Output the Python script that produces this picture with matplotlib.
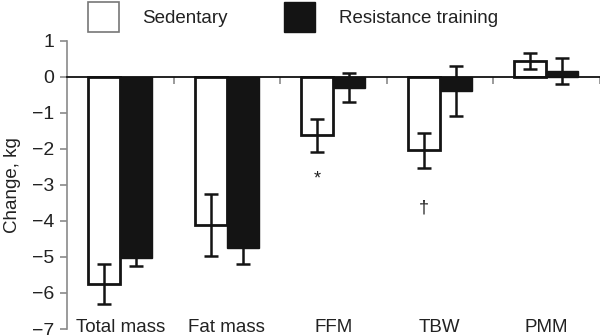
import matplotlib.pyplot as plt
import numpy as np
from matplotlib.patches import Patch

plt.rcParams["font.family"] = ["Liberation Sans", "DejaVu Sans"]

categories = ["Total mass", "Fat mass", "FFM", "TBW", "PMM"]
sedentary = [-5.75, -4.12, -1.63, -2.04, 0.43]
sedentary_err = [0.55, 0.86, 0.45, 0.49, 0.22]
resistance = [-5.03, -4.75, -0.30, -0.40, 0.16]
resistance_err = [0.22, 0.45, 0.41, 0.70, 0.37]

# significance marks drawn under the sedentary bars
marks = ["", "", "*", "\u2020", ""]
mark_y = [0, 0, -2.85, -3.64, 0]

text_color = "#222222"
axis_grey = "#8a8a8a"
dark = "#141414"

fig = plt.figure(figsize=(6.0, 3.35), dpi=100)
ax = fig.add_axes([0.1117, 0.0179, 0.8875, 0.8606])

x = np.arange(len(categories))
width = 0.3
err_kw = dict(ecolor=dark, elinewidth=1.8, capsize=4.8, capthick=1.8)

ax.bar(x - width / 2, sedentary, width, color="white", edgecolor=dark,
       linewidth=2.0, yerr=sedentary_err, error_kw=err_kw, zorder=2)
ax.bar(x + width / 2, resistance, width, color=dark, edgecolor=dark,
       linewidth=1.0, yerr=resistance_err, error_kw=err_kw, zorder=2)

for xi, m, my in zip(x - width / 2, marks, mark_y):
    if m:
        ax.text(xi, my, m, ha="center", va="center", fontsize=13,
                color=text_color)

ax.set_xlim(-0.5, len(categories) - 0.5)
ax.set_ylim(-7, 1)

ax.spines["top"].set_visible(False)
ax.spines["right"].set_visible(False)
ax.spines["left"].set_color(axis_grey)
ax.spines["left"].set_linewidth(1.2)
ax.spines["bottom"].set_position(("data", 0))
ax.spines["bottom"].set_color("#111111")
ax.spines["bottom"].set_linewidth(1.3)
ax.spines["bottom"].set_zorder(3)

ax.set_yticks(range(-7, 2))
ax.set_yticklabels([f"{v}".replace("-", "\u2212") for v in range(-7, 2)])
ax.tick_params(axis="y", colors=axis_grey, labelcolor=text_color,
               labelsize=14, length=5, width=1.2, pad=4)

ax.set_xticks(np.arange(0.5, len(categories), 1.0))
ax.set_xticklabels([])
ax.tick_params(axis="x", colors=axis_grey, length=5, width=1.2,
               direction="out")

for xi, name in zip(x, categories):
    ax.text(xi, -7.08, name, ha="center", va="baseline", fontsize=13.5,
            color=text_color, clip_on=False)

ax.set_ylabel("Change, kg", fontsize=13.5, color=text_color, labelpad=8)

handles = [
    Patch(facecolor="white", edgecolor="#777777", linewidth=1.2,
          label="Sedentary"),
    Patch(facecolor=dark, edgecolor=dark, label="Resistance training"),
]
fig.legend(handles=handles, loc="upper left",
           bbox_to_anchor=(0.147, 1 - 2 / 335), ncol=2, frameon=False,
           fontsize=13.5, handlelength=1.65, handleheight=2.1,
           handletextpad=1.25, columnspacing=3.0, borderpad=0.0,
           borderaxespad=0, labelcolor=text_color)

fig.savefig("out.png", dpi=100)
